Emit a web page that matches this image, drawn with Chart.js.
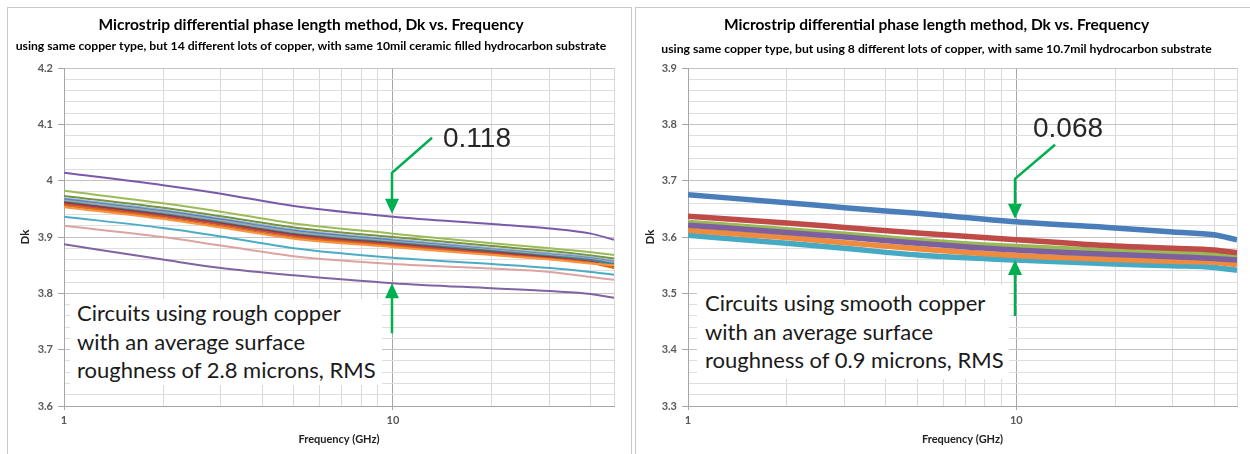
<!DOCTYPE html>
<html>
<head>
<meta charset="utf-8">
<script src="https://cdn.jsdelivr.net/npm/chart.js@4.4.1/dist/chart.umd.min.js"></script>
<style>
  html, body { margin: 0; padding: 0; background: #fff; }
  body { width: 1250px; height: 454px; position: relative; overflow: hidden; }
  .panel { position: absolute; top: 7px; height: 470px; border: 1px solid #c8c8c8; box-sizing: border-box; background: #fff; }
  #panelL { left: 7px; width: 625px; }
  #panelR { left: 635px; width: 630px; }
  canvas { position: absolute; }
  #cL { left: 8px; top: 8px; }
  #cR { left: 636px; top: 8px; }
  .gap { position: absolute; font-family: "Liberation Sans", Arial, sans-serif; font-size: 28px; line-height: 32px; color: #262626; }
  .note { position: absolute; background: #fff; font-family: Lato, sans-serif; font-size: 22px; line-height: 28.5px; color: #1a1a1a; white-space: nowrap; }
</style>
</head>
<body>
<div class="panel" id="panelL"></div>
<div class="panel" id="panelR"></div>
<canvas id="cL" width="623" height="446"></canvas>
<canvas id="cR" width="613" height="446"></canvas>

<div class="gap" style="left:443px; top:122px;">0.118</div>
<div class="gap" style="left:1033px; top:112px;">0.068</div>
<div class="note" style="left:70px; top:299px; padding:0 6px 0 7px;">Circuits using rough copper<br>with an average surface<br>roughness of 2.8 microns, RMS</div>
<div class="note" style="left:697px; top:285px; padding:4px 5px 4px 8px;">Circuits using smooth copper<br>with an average surface<br>roughness of 0.9 microns, RMS</div>

<script>
// frequency points (GHz) shared by all curves
const freqGHz = [1, 2, 3, 5, 10, 20, 30, 40, 47];
const xGridTicks = [1, 2, 3, 4, 5, 6, 7, 8, 9, 10, 20, 30, 40, 47];
const xTickLabels = [1, 10];

// left chart: rough copper, 14 lots
const roughLot1 = [4.014, 3.992, 3.977, 3.955, 3.936, 3.923, 3.915, 3.906, 3.895];
const roughLot2 = [3.982, 3.960, 3.945, 3.924, 3.906, 3.889, 3.880, 3.873, 3.868];
const roughLot3 = [3.973, 3.952, 3.937, 3.917, 3.900, 3.884, 3.875, 3.867, 3.862];
const roughLot4 = [3.969, 3.948, 3.933, 3.913, 3.896, 3.880, 3.871, 3.864, 3.858];
const roughLot5 = [3.967, 3.946, 3.931, 3.911, 3.894, 3.878, 3.869, 3.862, 3.856];
const roughLot6 = [3.965, 3.944, 3.929, 3.909, 3.892, 3.877, 3.868, 3.861, 3.855];
const roughLot7 = [3.962, 3.941, 3.926, 3.906, 3.890, 3.875, 3.866, 3.859, 3.852];
const roughLot8 = [3.961, 3.939, 3.924, 3.904, 3.888, 3.873, 3.864, 3.856, 3.848];
const roughLot9 = [3.958, 3.937, 3.922, 3.902, 3.886, 3.871, 3.862, 3.855, 3.846];
const roughLot10 = [3.956, 3.934, 3.919, 3.899, 3.884, 3.869, 3.861, 3.854, 3.845];
const roughLot11 = [3.953, 3.932, 3.917, 3.897, 3.882, 3.868, 3.860, 3.853, 3.850];
const roughLot12 = [3.936, 3.916, 3.901, 3.880, 3.863, 3.852, 3.845, 3.838, 3.833];
const roughLot13 = [3.920, 3.900, 3.885, 3.866, 3.852, 3.844, 3.838, 3.829, 3.824];
const roughLot14 = [3.887, 3.860, 3.845, 3.832, 3.818, 3.809, 3.804, 3.799, 3.792];

// right chart: smooth copper lots
const smoothLotA = [3.675, 3.661, 3.652, 3.642, 3.627, 3.616, 3.609, 3.604, 3.595];
const smoothLotB = [3.637, 3.625, 3.617, 3.607, 3.595, 3.584, 3.580, 3.577, 3.572];
const smoothLotC = [3.626, 3.613, 3.605, 3.594, 3.583, 3.575, 3.571, 3.569, 3.566];
const smoothLotD = [3.621, 3.608, 3.600, 3.589, 3.577, 3.569, 3.565, 3.562, 3.559];
const smoothLotE = [3.612, 3.599, 3.590, 3.579, 3.567, 3.560, 3.557, 3.555, 3.551];
const smoothLotF = [3.603, 3.589, 3.580, 3.568, 3.559, 3.552, 3.549, 3.546, 3.541];

const roughSeries = [
  { data: roughLot1, color: "#7a5aa8" },
  { data: roughLot14, color: "#8064a2" },
  { data: roughLot12, color: "#4bacc6" },
  { data: roughLot13, color: "#dba3a1" },
  { data: roughLot11, color: "#f79646" },
  { data: roughLot10, color: "#e46c0a" },
  { data: roughLot9, color: "#c0504d" },
  { data: roughLot8, color: "#953735" },
  { data: roughLot7, color: "#31859c" },
  { data: roughLot6, color: "#a5a5a5" },
  { data: roughLot5, color: "#4f81bd" },
  { data: roughLot4, color: "#95b3d7" },
  { data: roughLot3, color: "#77933c" },
  { data: roughLot2, color: "#9bbb59" },
];
const smoothSeries = [
  { data: smoothLotA, color: "#4a7ebb" },
  { data: smoothLotB, color: "#be4b48" },
  { data: smoothLotD, color: "#7d60a0" },
  { data: smoothLotE, color: "#f08a3c" },
  { data: smoothLotF, color: "#46aac5" },
  { data: smoothLotC, color: "#98b954" },
];

// green arrows marking the spread at 10 GHz
const gapArrows = {
  id: "gapArrows",
  afterDatasetsDraw(chart, args, o) {
    const { ctx, scales } = chart;
    const xs = scales.x, ys = scales.y;
    const valAt = (arr) => arr[freqGHz.indexOf(o.at)];
    const xp = Math.round(xs.getPixelForValue(o.at)) - 1;
    const tipTop = ys.getPixelForValue(valAt(o.top)) - o.topGap;
    const tipBot = ys.getPixelForValue(valAt(o.bottom)) + o.botGap;
    const elbow = tipTop - o.stem;
    ctx.save();
    ctx.strokeStyle = "#00b050";
    ctx.fillStyle = "#00b050";
    ctx.lineWidth = 2.5;
    ctx.beginPath();
    ctx.moveTo(xp + o.dx, elbow - o.dy);
    ctx.lineTo(xp, elbow);
    ctx.lineTo(xp, tipTop - 12);
    ctx.moveTo(xp, tipBot + 12);
    ctx.lineTo(xp, tipBot + o.tail);
    ctx.stroke();
    ctx.beginPath();
    ctx.moveTo(xp - 7, tipTop - 15);
    ctx.lineTo(xp + 7, tipTop - 15);
    ctx.lineTo(xp, tipTop);
    ctx.closePath();
    ctx.moveTo(xp - 7, tipBot + 15);
    ctx.lineTo(xp + 7, tipBot + 15);
    ctx.lineTo(xp, tipBot);
    ctx.closePath();
    ctx.fill();
    ctx.restore();
  },
};

function isMajorY(v) {
  return Math.abs(v * 10 - Math.round(v * 10)) < 1e-6;
}

function makeChart(id, cfg) {
  const datasets = cfg.series.map((s) => ({
    data: s.data.map((v, i) => ({ x: freqGHz[i], y: v })),
    borderColor: s.color,
    backgroundColor: s.color,
    borderWidth: cfg.lineWidth,
    pointRadius: 0,
    cubicInterpolationMode: "monotone",
    fill: false,
  }));
  return new Chart(document.getElementById(id), {
    type: "line",
    data: { datasets },
    plugins: [gapArrows],
    options: {
      responsive: false,
      animation: false,
      events: [],
      layout: { padding: { left: 0, right: cfg.padRight, top: 0, bottom: 0 } },
      plugins: {
        legend: { display: false },
        tooltip: { enabled: false },
        title: {
          display: true,
          text: "Microstrip differential phase length method, Dk vs. Frequency",
          color: "#000",
          font: { family: "Lato", size: 15.5, weight: "bold" },
          padding: { top: 7.7, bottom: 1 },
        },
        subtitle: {
          display: true,
          text: cfg.subtitle,
          color: "#000",
          font: { family: "Lato", size: 12.2, weight: "bold" },
          padding: { top: cfg.subTop, bottom: 18.1 - cfg.subTop },
        },
        gapArrows: cfg.arrows,
      },
      scales: {
        x: {
          type: "logarithmic",
          min: 1,
          max: 47,
          afterBuildTicks: (axis) => {
            axis.ticks = xGridTicks.map((v) => ({ value: v }));
          },
          afterFit: (axis) => {
            axis.height = 48;
          },
          ticks: {
            autoSkip: false,
            maxRotation: 0,
            padding: 4,
            color: "#595959",
            font: { family: "Lato", size: 11, weight: "bold" },
            callback: (v) => (xTickLabels.includes(v) ? String(v) : ""),
          },
          grid: {
            color: (c) => (c.tick && c.tick.value === 10 ? "#a6a6a6" : "#d9d9d9"),
            tickLength: 4,
            tickColor: (c) => (c.tick && xTickLabels.includes(c.tick.value) ? "#a6a6a6" : "rgba(0,0,0,0)"),
          },
          border: { color: "#a6a6a6" },
          title: {
            display: true,
            text: "Frequency (GHz)",
            color: "#222",
            font: { family: "Lato", size: 11, weight: "bold" },
            padding: { top: 0, bottom: 8 },
          },
        },
        y: {
          min: cfg.yMin,
          max: cfg.yMax,
          afterFit: (axis) => {
            axis.width = cfg.yWidth;
          },
          ticks: {
            stepSize: 0.02,
            autoSkip: false,
            padding: 5,
            color: "#595959",
            font: { family: "Lato", size: 11, weight: "bold" },
            callback: (v) => (isMajorY(v) ? String(Math.round(v * 10) / 10) : ""),
          },
          grid: {
            color: (c) => (c.tick && isMajorY(c.tick.value) ? "#c4c4c4" : "#dedede"),
            tickLength: 6,
            tickColor: (c) => (c.tick && isMajorY(c.tick.value) ? "#a6a6a6" : "rgba(0,0,0,0)"),
          },
          border: { color: "#a6a6a6" },
          title: {
            display: true,
            text: "Dk",
            color: "#222",
            font: { family: "Lato", size: 11.5, weight: "bold" },
            padding: { top: cfg.dkPad, bottom: 0 },
          },
        },
      },
    },
  });
}

makeChart("cL", {
  series: roughSeries,
  lineWidth: 2,
  subtitle: "using same copper type, but 14 different lots of copper, with same 10mil ceramic filled hydrocarbon substrate",
  subTop: 3.5,
  yMin: 3.6,
  yMax: 4.2,
  yWidth: 56,
  padRight: 17,
  dkPad: 10.5,
  arrows: { at: 10, top: roughLot1, bottom: roughLot14, topGap: 3, botGap: 0, stem: 41, dx: 40, dy: 35, tail: 50 },
});

makeChart("cR", {
  series: smoothSeries,
  lineWidth: 5.5,
  subtitle: "using same copper type, but using 8 different lots of copper, with same 10.7mil hydrocarbon substrate",
  subTop: 6.5,
  yMin: 3.3,
  yMax: 3.9,
  yWidth: 52,
  padRight: 12,
  dkPad: 7.5,
  arrows: { at: 10, top: smoothLotA, bottom: smoothLotF, topGap: 3, botGap: 0, stem: 40, dx: 40, dy: 34, tail: 56 },
});
</script>
</body>
</html>
